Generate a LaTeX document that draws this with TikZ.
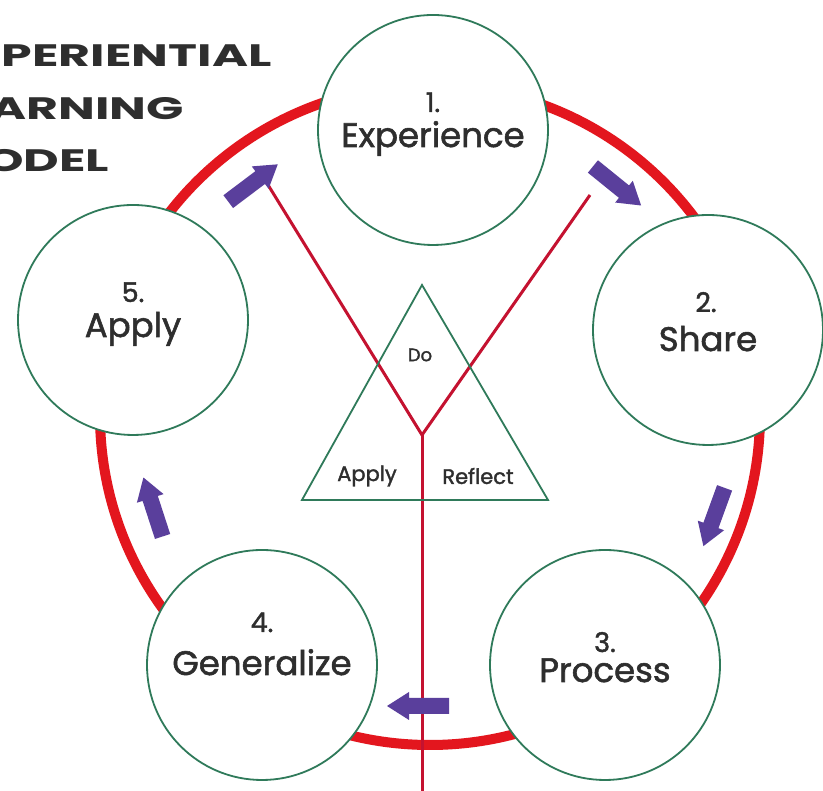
\documentclass[tikz,border=0pt]{standalone}
\usepackage{fontspec}
\setmainfont{Poppins}
\newfontfamily\semib{Poppins}[FakeBold=1.6]
\definecolor{ringred}{HTML}{E3161E}
\definecolor{linered}{HTML}{C41230}
\definecolor{cgreen}{HTML}{2F7A5A}
\definecolor{apurple}{HTML}{5A3F9C}
\definecolor{txt}{HTML}{2E2E2E}
\tikzset{
  stage/.style={circle, draw=cgreen, line width=1.8pt, fill=white, minimum size=230pt, inner sep=0pt},
  numtxt/.style={text=txt, anchor=base, inner sep=0pt, font=\semib\fontsize{27}{29}\selectfont},
  wordtxt/.style={text=txt, anchor=base, inner sep=0pt, font=\semib\fontsize{34}{36}\selectfont},
  tritxt/.style={text=txt, font=\semib\fontsize{21}{23}\selectfont},
  titletxt/.style={text=txt, font=\bfseries\fontsize{31}{33}\selectfont, anchor=base west, inner sep=0pt, xscale=1.58},
  redline/.style={draw=linered, line width=3pt},
  barrow/.pic={\fill[apurple] (-31,-8) -- (9,-8) -- (9,-14) -- (31,0) -- (9,14) -- (9,8) -- (-31,8) -- cycle;}
}
\begin{document}
\begin{tikzpicture}[x=1pt,y=1pt]
\useasboundingbox (0,0) rectangle (823,791);
\clip (0,0) rectangle (823,791);
\fill[white] (0,0) rectangle (823,791);
% title
\node[titletxt] (t1) at (-60,724) {EXPERIENTIAL};
\node[titletxt] (t2) at (-60,671) {LEARNING};
\node[titletxt] (t3) at (-60,619) {MODEL};
% ring
\coordinate (rc) at (430,376);
\draw[ringred, line width=10pt] (rc) circle[radius=330];
% stage circles
\node[stage] (c1) at (433,661) {};
\node[stage] (c2) at (708,461) {};
\node[stage] (c3) at (605,126) {};
\node[stage] (c4) at (262,126) {};
\node[stage] (c5) at (133,471) {};
% Y lines
\coordinate (ya) at (265,611);
\coordinate (yb) at (590,596);
\coordinate (yj) at (422,356);
\coordinate (yd) at (422,-5);
\draw[redline] (ya) -- (yj) -- (yb);
\draw[redline] (yj) -- (yd);
% triangle
\coordinate (ta) at (422,506);
\coordinate (tl) at (302,291);
\coordinate (tr) at (548,291);
\draw[cgreen, line width=1.8pt, line join=miter] (ta) -- (tl) -- (tr) -- cycle;
\node[tritxt, font=\semib\fontsize{18}{20}\selectfont] (tdo) at (420,436) {Do};
\node[tritxt] (tap) at (367,315) {Apply};
\node[tritxt] (tre) at (478,315) {Reflect};
% arrows
\pic[rotate=37] at (253,608) {barrow};
\pic[rotate=-39] at (617,605) {barrow};
\pic[rotate=-110] at (714,274) {barrow};
\pic[rotate=180] at (418,85) {barrow};
\pic[rotate=108] at (153,284) {barrow};
% labels
\node[numtxt] (n1) at (433,679) {1.};
\node[wordtxt] (w1) at (433,644) {Experience};
\node[numtxt] (n2) at (706,479) {2.};
\node[wordtxt] (w2) at (708,440) {Share};
\node[numtxt] (n3) at (605,139) {3.};
\node[wordtxt] (w3) at (605,109) {Process};
\node[numtxt] (n4) at (262,159) {4.};
\node[wordtxt] (w4) at (262,116) {Generalize};
\node[numtxt] (n5) at (133,489) {5.};
\node[wordtxt] (w5) at (133,454) {Apply};
\end{tikzpicture}
\end{document}
